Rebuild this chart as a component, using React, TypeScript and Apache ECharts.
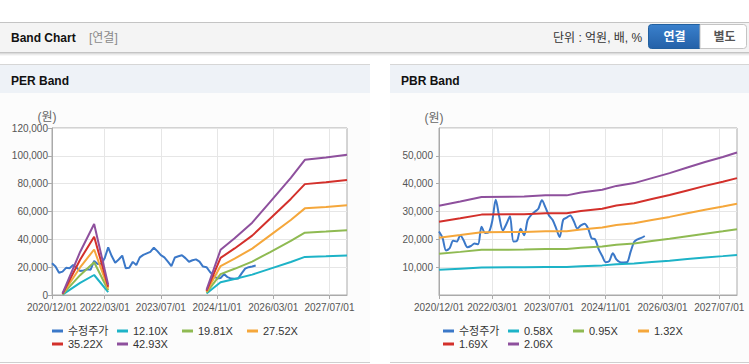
import React, { useEffect, useRef } from 'react';
import * as echarts from 'echarts';

// ---------- categories (monthly) ----------
const categories: string[] = (() => {
  const out: string[] = [];
  let y = 2020, m = 12;
  for (let k = 0; k < 85; k++) {
    out.push(`${y}/${String(m).padStart(2, '0')}/01`);
    m++;
    if (m > 12) { m = 1; y++; }
  }
  return out;
})();
const xLabelIndex = [0, 15, 31, 47, 63, 79];

// ---------- adjusted price (수정주가), monthly from 2020/12 ----------
const price: (number | null)[] = [
  22800, 20500, 16000, 16800, 19500, 19200, 21500, 19500, 17200, 17600,
  18500, 18200, 24500, 22300, 22500, 26500, 34200, 28000, 23200, 25500,
  28300, 19200, 19500, 23800, 21500, 27000, 28800, 29900, 31000, 34000,
  31500, 28600, 27000, 24000, 20800, 27000, 27800, 28600, 26500, 23900,
  25000, 25600, 24000, 20400, 20000, 16500, 14000, 11800, 12200, 15000,
  12800, 11800, 11700, 11800, 15500, 19000, 20000, 20500, 21200,
];

// ---------- PER band vertices ----------
const perIdxA = [3, 8, 12, 16];
const perIdxB = [44, 48, 52, 57, 62, 68, 72, 78, 84];
const per1210A = [300, 8710, 14370, 2060];
const per1981A = [500, 14260, 23530, 3370];
const per2752A = [690, 19810, 32690, 4680];
const per3522A = [880, 25360, 41840, 5990];
const per4293A = [1070, 30910, 51000, 7300];
const per1210B = [1030, 9160, 11500, 14650, 18760, 23720, 27370, 27830, 28390];
const per1981B = [1680, 15000, 18820, 23990, 30710, 38830, 44810, 45560, 46470];
const per2752B = [2340, 20830, 26140, 33330, 42660, 53940, 62250, 63300, 64560];
const per3522B = [2990, 26660, 33460, 42650, 54590, 69030, 79670, 81010, 82630];
const per4293B = [3650, 32500, 40780, 51990, 66540, 84140, 97110, 98740, 100710];

// ---------- PBR band vertices ----------
const pbrIdx = [0, 6, 12, 24, 30, 36, 40, 46, 50, 55, 60, 65, 70, 75, 80, 84];
const pbr058 = [9036, 9460, 9912, 9964, 10080, 10080, 10359, 10643, 11037, 11316, 11826, 12331, 12893, 13456, 13966, 14413];
const pbr095 = [14801, 15495, 16236, 16321, 16511, 16511, 16967, 17433, 18079, 18535, 19371, 20197, 21119, 22040, 22876, 23608];
const pbr132 = [20566, 21529, 22559, 22678, 22942, 22942, 23575, 24222, 25120, 25753, 26915, 28063, 29344, 30624, 31786, 32802];
const pbr169 = [26330, 27564, 28882, 29034, 29372, 29372, 30183, 31012, 32161, 32972, 34459, 35929, 37569, 39208, 40695, 41997];
const pbr206 = [32100, 33600, 35200, 35400, 35800, 35800, 36800, 37800, 39200, 40200, 42000, 43800, 45800, 47800, 49600, 51200];

const perNames = ['12.10X', '19.81X', '27.52X', '35.22X', '42.93X'];
const pbrNames = ['0.58X', '0.95X', '1.32X', '1.69X', '2.06X'];
const priceName = '수정주가';

const COLORS = {
  price: '#3b78c8',
  band: ['#1db3c7', '#8fba52', '#f5a73b', '#d3302b', '#8e509d'],
};

const FONT = "'Liberation Sans', Arial, 'Noto Sans CJK KR', sans-serif";
const AXIS = '#aaaaaa';
const GRIDLINE = '#e6e6e6';

const zip = (idx: number[], vals: number[]) => idx.map((x, j) => [x, vals[j]]);
const showIdx = (i: number) => xLabelIndex.includes(i);

function makeXAxis(gridIndex: number) {
  return {
    type: 'category',
    gridIndex,
    data: categories,
    boundaryGap: false,
    axisLine: { lineStyle: { color: AXIS } },
    axisTick: { show: true, interval: showIdx, length: 4, lineStyle: { color: AXIS } },
    axisLabel: { interval: showIdx, color: '#555', fontSize: 10, margin: 7, fontFamily: FONT },
    splitLine: { show: true, interval: showIdx, lineStyle: { color: GRIDLINE } },
  };
}

function makeYAxis(gridIndex: number, max: number, interval: number, hideEnds: boolean, margin: number, tickLen: number) {
  return {
    type: 'value',
    gridIndex,
    min: 0,
    max,
    interval,
    name: '(원)',
    nameLocation: 'end',
    nameGap: 4,
    nameTextStyle: { color: '#666', fontSize: 12, align: 'center', padding: [0, 10, 0, 0], fontFamily: FONT },
    axisLine: { show: true, lineStyle: { color: AXIS } },
    axisTick: { show: true, length: tickLen, lineStyle: { color: AXIS } },
    axisLabel: {
      color: '#555', fontSize: 10, margin, fontFamily: FONT,
      showMinLabel: !hideEnds, showMaxLabel: !hideEnds,
      formatter: (v: number) => v.toLocaleString('en-US'),
    },
    splitLine: { show: true, lineStyle: { color: GRIDLINE } },
  };
}

function lineSeries(name: string, axis: number, data: any[], color: string, smooth: number | boolean = false) {
  return {
    name,
    type: 'line',
    xAxisIndex: axis,
    yAxisIndex: axis,
    data,
    smooth,
    showSymbol: false,
    symbol: 'none',
    connectNulls: false,
    lineStyle: { width: 2, color },
    itemStyle: { color },
    emphasis: { disabled: true },
  };
}

function makeLegend(left: number, names: string[]) {
  return {
    left,
    top: 325,
    width: 262,
    orient: 'horizontal',
    padding: 0,
    itemWidth: 11,
    itemHeight: 3,
    itemGap: 1,
    icon: 'rect',
    data: names,
    textStyle: { fontSize: 11, color: '#333', width: 48, lineHeight: 12, fontFamily: FONT },
  };
}

export default function App() {
  const ref = useRef<HTMLDivElement>(null);

  useEffect(() => {
    document.body.style.margin = '0';
    if (!ref.current) return;
    const chart = echarts.init(ref.current, undefined, { renderer: 'svg' });

    const perA = [per1210A, per1981A, per2752A, per3522A, per4293A];
    const perB = [per1210B, per1981B, per2752B, per3522B, per4293B];
    const pbr = [pbr058, pbr095, pbr132, pbr169, pbr206];

    const series: any[] = [];
    series.push(lineSeries(priceName, 0, price, COLORS.price));
    perNames.forEach((n, k) => {
      series.push(lineSeries(n, 0, zip(perIdxA, perA[k]), COLORS.band[k]));
      series.push(lineSeries(n, 0, zip(perIdxB, perB[k]), COLORS.band[k]));
    });
    series.push(lineSeries(priceName, 1, price, COLORS.price, 0.3));
    pbrNames.forEach((n, k) => {
      series.push(lineSeries(n, 1, zip(pbrIdx, pbr[k]), COLORS.band[k]));
    });

    const btnGrad = new echarts.graphic.LinearGradient(0, 0, 0, 1, [
      { offset: 0, color: '#3a80cc' },
      { offset: 1, color: '#2461a8' },
    ]);

    const bg = (x: number, y: number, w: number, h: number, fill: string) => ({
      type: 'rect', z: -10, silent: true, shape: { x, y, width: w, height: h }, style: { fill },
    });
    const hline = (x1: number, x2: number, y: number, stroke: string) => ({
      type: 'line', z: -5, silent: true, shape: { x1, y1: y, x2, y2: y }, style: { stroke, lineWidth: 1 },
    });
    const txt = (x: number, y: number, text: string, font: string, fill: string, align = 'left') => ({
      type: 'text', z: 10, silent: true, x, y,
      style: { text, font, fill, align, verticalAlign: 'middle' },
    });

    const graphic = [
      // top bar
      bg(0, 22, 749, 31, '#f4f4f4'),
      hline(0, 749, 22.5, '#c4c4c4'),
      hline(0, 749, 52.5, '#c4c4c4'),
      hline(0, 749, 53.5, '#dcdcdc'),
      hline(0, 749, 54.5, '#ececec'),
      hline(0, 749, 55.5, '#f7f7f7'),
      txt(11, 38, 'Band Chart', `bold 12px ${FONT}`, '#111'),
      txt(89, 38, '[연결]', `12px ${FONT}`, '#8a8a8a'),
      txt(553, 38, '단위 : 억원, 배, %', `12px ${FONT}`, '#333'),
      {
        type: 'rect', z: 5, silent: true,
        shape: { x: 648.5, y: 24.5, width: 51.5, height: 24, r: [3, 0, 0, 3] },
        style: { fill: btnGrad, stroke: '#22609f', lineWidth: 1 },
      },
      txt(674.5, 37, '연결', `bold 12px ${FONT}`, '#ffffff', 'center'),
      {
        type: 'rect', z: 5, silent: true,
        shape: { x: 700, y: 24.5, width: 46.5, height: 24, r: [0, 3, 3, 0] },
        style: { fill: '#ffffff', stroke: '#c4c4c4', lineWidth: 1 },
      },
      txt(724.5, 37, '별도', `bold 12px ${FONT}`, '#555555', 'center'),
      // left panel
      bg(0, 64, 370, 299, '#fcfcfc'),
      bg(0, 65, 370, 28, '#eef2f7'),
      hline(0, 370, 64.5, '#d6d6d6'),
      hline(0, 370, 362.5, '#cfcfcf'),
      txt(11, 80.5, 'PER Band', `bold 12px ${FONT}`, '#111'),
      // right panel
      bg(390, 64, 359, 299, '#fcfcfc'),
      bg(390, 65, 359, 28, '#eef2f7'),
      hline(390, 749, 64.5, '#d6d6d6'),
      hline(390, 749, 362.5, '#cfcfcf'),
      txt(401, 80.5, 'PBR Band', `bold 12px ${FONT}`, '#111'),
    ];

    chart.setOption({
      animation: false,
      textStyle: { fontFamily: FONT },
      grid: [
        { left: 52, top: 128, width: 295, height: 167, show: true, borderColor: AXIS, borderWidth: 1, backgroundColor: '#ffffff' },
        { left: 439, top: 128, width: 298, height: 167, show: true, borderColor: AXIS, borderWidth: 1, backgroundColor: '#ffffff' },
      ],
      xAxis: [makeXAxis(0), makeXAxis(1)],
      yAxis: [
        makeYAxis(0, 120000, 20000, false, 4, 4),
        makeYAxis(1, 60000, 10000, true, 6, 3),
      ],
      legend: [
        makeLegend(52, [priceName, ...perNames]),
        makeLegend(443, [priceName, ...pbrNames]),
      ],
      tooltip: { show: false },
      series,
      graphic,
    });

    return () => chart.dispose();
  }, []);

  return <div ref={ref} style={{ width: 749, height: 364 }} />;
}
